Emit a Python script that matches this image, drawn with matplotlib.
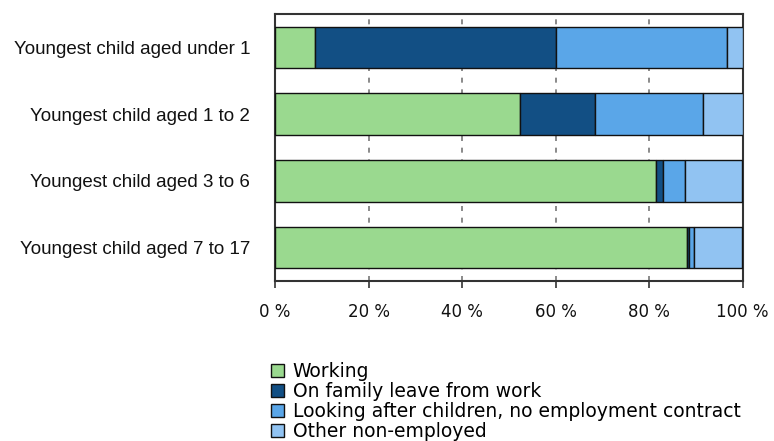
import matplotlib
matplotlib.use("Agg")
import matplotlib.pyplot as plt
from matplotlib.patches import Patch

categories = [
    "Youngest child aged under 1",
    "Youngest child aged 1 to 2",
    "Youngest child aged 3 to 6",
    "Youngest child aged 7 to 17",
]
series_names = [
    "Working",
    "On family leave from work",
    "Looking after children, no employment contract",
    "Other non-employed",
]
working = [8.6, 52.4, 81.5, 88.1]
family_leave = [51.4, 16.1, 1.5, 0.5]
looking_after = [36.6, 23.0, 4.7, 1.0]
other = [3.4, 8.5, 12.3, 10.4]
xticks = [0, 20, 40, 60, 80, 100]
xtick_labels = ["0 %", "20 %", "40 %", "60 %", "80 %", "100 %"]

colors = ["#9AD98F", "#124F84", "#5AA6E8", "#91C3F2"]
series = [working, family_leave, looking_after, other]

fig = plt.figure(figsize=(7.74, 4.41), dpi=100)
ax = fig.add_axes([275 / 774, 1 - 281 / 441, 467.5 / 774, 267 / 441])

ypos = list(range(len(categories)))
left = [0.0] * len(categories)
for vals, col in zip(series, colors):
    ax.barh(ypos, vals, left=left, height=0.62, color=col,
            edgecolor="#111111", linewidth=1.0, zorder=3)
    left = [a + b for a, b in zip(left, vals)]

ax.set_xlim(0, 100)
ax.set_ylim(3.5, -0.5)
ax.set_yticks(ypos)
ax.set_yticklabels(categories, fontsize=13.5, family="Liberation Sans", color="#111111")
ax.tick_params(axis="y", length=0, pad=18)
ax.set_xticks(xticks)
ax.set_xticklabels(xtick_labels, fontsize=12, family="DejaVu Sans", color="#111111")
ax.tick_params(axis="x", direction="out", length=5, width=1.2, color="#333333", pad=11)

ax.xaxis.grid(True, linestyle=(0, (3, 4)), color="#777777", linewidth=1.2, zorder=0)
ax.set_axisbelow(True)
for sp in ax.spines.values():
    sp.set_color("#333333")
    sp.set_linewidth(1.5)

handles = [Patch(facecolor=c, edgecolor="#111111", linewidth=1.0) for c in colors]
fig.legend(handles, series_names, loc="upper left",
           bbox_to_anchor=(271 / 774, 1 - 362 / 441), frameon=False,
           prop={"family": "DejaVu Sans", "size": 13.5},
           handlelength=0.7, handleheight=0.7, handletextpad=0.45,
           labelspacing=0.05, borderpad=0, borderaxespad=0)

fig.savefig("out.png", dpi=100)
